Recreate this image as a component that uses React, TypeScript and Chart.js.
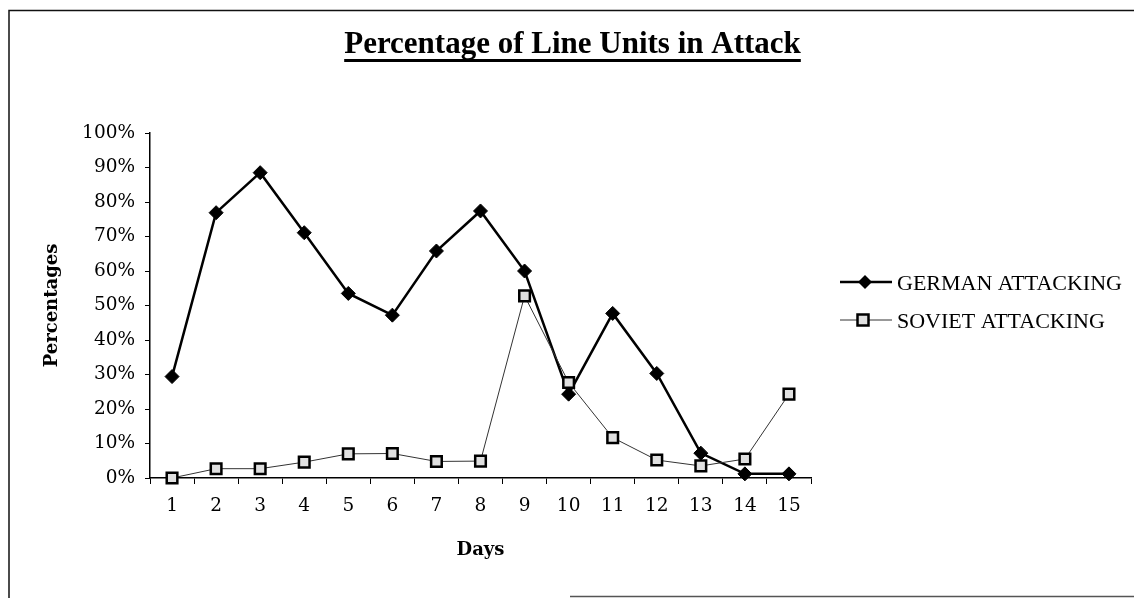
import React, { useEffect, useRef } from 'react';
import { Chart, registerables } from 'chart.js';

Chart.register(...registerables);

const days = ['1', '2', '3', '4', '5', '6', '7', '8', '9', '10', '11', '12', '13', '14', '15'];
const germanAttacking = [29.4, 76.9, 88.5, 71.1, 53.5, 47.2, 65.8, 77.4, 60.0, 24.3, 47.7, 30.3, 7.2, 1.2, 1.2];
const sovietAttacking = [0, 2.7, 2.7, 4.6, 7.0, 7.1, 4.8, 4.9, 52.8, 27.7, 11.7, 5.2, 3.5, 5.5, 24.3];
const seriesNames = ['GERMAN ATTACKING', 'SOVIET ATTACKING'];
const chartTitle = 'Percentage of Line Units in Attack';
const xTitle = 'Days';
const yTitle = 'Percentages';
const yMin = 0;
const yMax = 100;
const yStep = 10;

export default function App() {
  const ref = useRef<HTMLCanvasElement>(null);

  useEffect(() => {
    const canvas = ref.current;
    if (!canvas) return;

    const decor = {
      id: 'decor',
      afterDraw(chart: any) {
        const ctx = chart.ctx as CanvasRenderingContext2D;
        ctx.save();
        // frame
        ctx.strokeStyle = '#111';
        ctx.lineWidth = 1.5;
        ctx.beginPath();
        ctx.moveTo(9, 598);
        ctx.lineTo(9, 10.5);
        ctx.lineTo(1134, 10.5);
        ctx.stroke();
        ctx.strokeStyle = '#555';
        ctx.beginPath();
        ctx.moveTo(570, 596.5);
        ctx.lineTo(1134, 596.5);
        ctx.stroke();

        // title with underline
        ctx.font = 'bold 31px "Liberation Serif"';
        ctx.fillStyle = '#000';
        ctx.textAlign = 'center';
        ctx.textBaseline = 'alphabetic';
        const cx = 572.5;
        ctx.fillText(chartTitle, cx, 53);
        const w = ctx.measureText(chartTitle).width;
        ctx.fillRect(cx - w / 2, 59, w, 3);

        // legend
        const lx0 = 840;
        const lx1 = 892;
        // German
        let y = 282;
        ctx.strokeStyle = '#000';
        ctx.lineWidth = 2.5;
        ctx.beginPath();
        ctx.moveTo(lx0, y);
        ctx.lineTo(lx1, y);
        ctx.stroke();
        ctx.fillStyle = '#000';
        ctx.beginPath();
        const r = 7;
        ctx.moveTo(865, y - r);
        ctx.lineTo(865 + r, y);
        ctx.lineTo(865, y + r);
        ctx.lineTo(865 - r, y);
        ctx.closePath();
        ctx.fill();
        // Soviet
        y = 320;
        ctx.strokeStyle = '#333';
        ctx.lineWidth = 1;
        ctx.beginPath();
        ctx.moveTo(lx0, y);
        ctx.lineTo(lx1, y);
        ctx.stroke();
        ctx.fillStyle = '#e0e0e0';
        ctx.strokeStyle = '#000';
        ctx.lineWidth = 2.5;
        ctx.beginPath();
        ctx.rect(863 - 5.5, y - 5.5, 11, 11);
        ctx.fill();
        ctx.stroke();

        ctx.fillStyle = '#000';
        ctx.textAlign = 'left';
        ctx.font = '22px "Liberation Serif"';
        ctx.fillText(seriesNames[0], 897, 290);
        ctx.fillText(seriesNames[1], 897, 328);
        ctx.restore();
      },
    };

    const chart = new Chart(canvas, {
      type: 'line',
      data: {
        labels: days,
        datasets: [
          {
            label: seriesNames[0],
            data: germanAttacking,
            borderColor: '#000',
            borderWidth: 2.5,
            backgroundColor: '#000',
            pointStyle: 'rectRot',
            pointRadius: 7,
            pointBorderWidth: 1,
            pointBorderColor: '#000',
            pointBackgroundColor: '#000',
            tension: 0,
            clip: false,
            order: 1,
          },
          {
            label: seriesNames[1],
            data: sovietAttacking,
            borderColor: '#333',
            borderWidth: 1,
            pointStyle: 'rect',
            pointRadius: 7.5,
            pointBorderWidth: 2.5,
            pointBorderColor: '#000',
            pointBackgroundColor: '#e0e0e0',
            tension: 0,
            clip: false,
            order: 0,
          },
        ],
      },
      options: {
        responsive: false,
        animation: false,
        devicePixelRatio: 1,
        layout: { padding: { top: 133, right: 323, bottom: 0, left: 0 } },
        plugins: {
          legend: { display: false },
          title: { display: false },
          tooltip: { enabled: false },
        },
        scales: {
          x: {
            type: 'category',
            offset: true,
            grid: {
              offset: true,
              drawOnChartArea: false,
              drawTicks: true,
              tickLength: 6,
              color: '#000',
              lineWidth: 1,
            },
            border: { display: true, color: '#000', width: 1.5 },
            ticks: {
              color: '#000',
              font: { family: 'DejaVu Serif', size: 18.5 },
              padding: 11,
              maxRotation: 0,
              autoSkip: false,
            },
            title: {
              display: true,
              text: xTitle,
              color: '#000',
              font: { family: 'DejaVu Serif', size: 18, weight: 'bold' },
              padding: { top: 0, bottom: 37 },
            },
            afterFit: (s: any) => {
              s.height = 120;
            },
          },
          y: {
            min: yMin,
            max: yMax,
            ticks: {
              stepSize: yStep,
              callback: (v: any) => v + '%',
              color: '#000',
              font: { family: 'DejaVu Serif', size: 18.5 },
              padding: 10,
            },
            grid: {
              drawOnChartArea: false,
              drawTicks: true,
              tickLength: 5,
              color: '#000',
              lineWidth: 1,
            },
            border: { display: true, color: '#000', width: 1.5 },
            title: {
              display: true,
              text: yTitle,
              color: '#000',
              font: { family: 'DejaVu Serif', size: 18, weight: 'bold' },
              padding: { top: 41.7, bottom: 0 },
            },
            afterFit: (s: any) => {
              s.width = 150;
            },
          },
        },
      },
      plugins: [decor],
    });

    return () => chart.destroy();
  }, []);

  return (
    <div style={{ position: 'absolute', left: 0, top: 0, width: 1134, height: 598, background: '#fff' }}>
      <canvas ref={ref} width={1134} height={598} style={{ display: 'block', width: 1134, height: 598 }} />
    </div>
  );
}
